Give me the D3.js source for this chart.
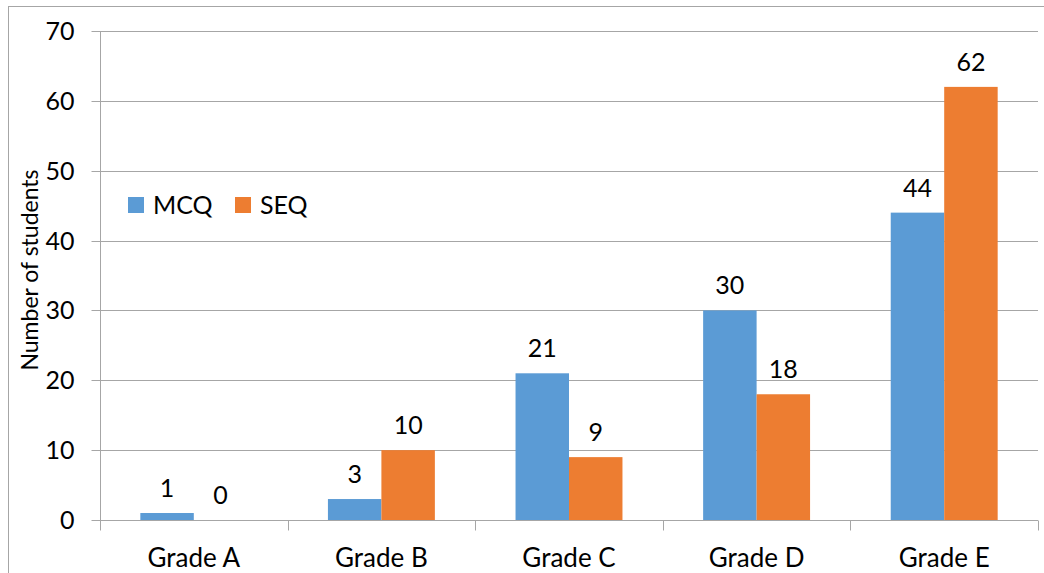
<!DOCTYPE html>
<html><head><meta charset="utf-8">
<script src="https://cdn.jsdelivr.net/npm/d3@7"></script>
<style>body{margin:0;background:#fff}svg{display:block}text{font-family:Lato,"Open Sans",sans-serif;fill:#000}</style>
</head><body>
<script>
const categories = ["Grade A","Grade B","Grade C","Grade D","Grade E"];
const seriesNames = ["MCQ","SEQ"];
const mcq = [1,3,21,30,44];
const seq = [0,10,9,18,62];
const yTicks = [0,10,20,30,40,50,60,70];
const colors = ["#5B9BD5","#ED7D31"];

const W=1044,H=573, FS=25;
const svg=d3.select("body").append("svg").attr("width",W).attr("height",H);
svg.append("rect").attr("x",8.5).attr("y",6.5).attr("width",1040).attr("height",580).attr("fill","none").attr("stroke","#a6a6a6");

const x0=100, x1=1038;
const x=d3.scaleBand().domain(categories).range([x0,x1]).paddingInner(0.43).paddingOuter(0.215);
const xs=d3.scaleBand().domain(seriesNames).range([0,x.bandwidth()]);
const y=d3.scaleLinear().domain([0,70]).range([520,31]);

// gridlines
svg.append("g").selectAll("line").data(yTicks.filter(d=>d>0)).join("line")
 .attr("x1",x0).attr("x2",x1).attr("y1",d=>Math.round(y(d))+0.5).attr("y2",d=>Math.round(y(d))+0.5)
 .attr("stroke","#a6a6a6").attr("stroke-width",1);

// y axis
const ya=svg.append("g").attr("transform",`translate(${x0+0.5},0)`)
 .call(d3.axisLeft(y).tickValues(yTicks).tickSize(9).tickPadding(17).tickFormat(d3.format("d")));
ya.select(".domain").attr("stroke","#a6a6a6").attr("d",`M0,${y(70)}V${y(0)}`);
ya.selectAll(".tick line").attr("stroke","#a6a6a6");
ya.selectAll(".tick text").attr("font-size",FS).attr("font-family","Lato");
ya.selectAll(".tick").attr("transform",d=>`translate(0,${Math.round(y(d))+0.5})`);

// x axis
const step=(x1-x0)/categories.length;
const xa=svg.append("g").attr("transform",`translate(0,${Math.round(y(0))+0.5})`);
xa.append("line").attr("x1",x0).attr("x2",x1).attr("stroke","#a6a6a6");
xa.selectAll(".bt").data(d3.range(categories.length+1)).join("line").attr("class","bt")
 .attr("x1",i=>Math.round(x0+i*step)+0.5).attr("x2",i=>Math.round(x0+i*step)+0.5).attr("y1",0).attr("y2",10).attr("stroke","#a6a6a6");
xa.selectAll(".cl").data(categories).join("text").attr("class","cl")
 .attr("x",d=>x(d)+x.bandwidth()/2).attr("y",46).attr("text-anchor","middle").attr("font-size",FS+1).text(d=>d);

// bars
const data=categories.map((c,i)=>({c,vals:[mcq[i],seq[i]]}));
const g=svg.append("g");
data.forEach(d=>{
  d.vals.forEach((v,j)=>{
    const bx=x(d.c)+xs(seriesNames[j]);
    g.append("rect").attr("x",bx).attr("y",y(v)).attr("width",xs.bandwidth()).attr("height",y(0)-y(v)).attr("fill",colors[j]);
    g.append("text").attr("x",bx+xs.bandwidth()/2).attr("y",y(v)-16).attr("text-anchor","middle").attr("font-size",FS).text(v);
  });
});

// y title
svg.append("text").attr("transform","translate(38,270) rotate(-90)").attr("text-anchor","middle").attr("font-size",23).text("Number of students");

// legend
const lg=svg.append("g");
const lx=[128,235];
seriesNames.forEach((s,i)=>{
  lg.append("rect").attr("x",lx[i]).attr("y",197).attr("width",16).attr("height",16).attr("fill",colors[i]);
  lg.append("text").attr("x",lx[i]+25).attr("y",214).attr("font-size",FS).text(s);
});
</script>
</body></html>
